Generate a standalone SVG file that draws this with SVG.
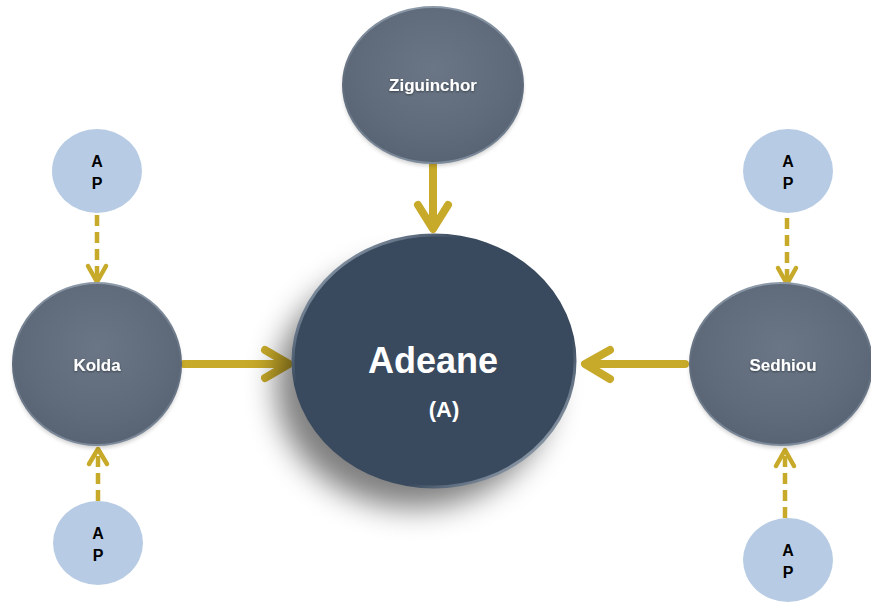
<svg xmlns="http://www.w3.org/2000/svg" width="871" height="605" viewBox="0 0 871 605">
<style>
.conn{fill:none;stroke:#C8AA2A;stroke-linecap:round;stroke-linejoin:round}
.solid{stroke-width:8}
.dash{stroke-width:4.5;stroke-dasharray:11 6;stroke-linecap:butt}
.head{fill:none;stroke:#C8AA2A;stroke-linecap:round;stroke-linejoin:round}
.lbl{font-family:"Liberation Sans",Arial,sans-serif;font-weight:bold;fill:#FFFFFF;text-anchor:middle}
.ap{font-family:"Liberation Sans",Arial,sans-serif;font-weight:bold;font-size:16px;fill:#000000;text-anchor:middle}
.apc{fill:#B7CCE4}
.grey{fill:url(#greyG);stroke:url(#rim);stroke-width:2}
</style>
<defs>
<radialGradient id="greyG" cx="0.5" cy="0.4" r="0.6">
<stop offset="0" stop-color="#6A7686"/>
<stop offset="0.7" stop-color="#5F6B7B"/>
<stop offset="1" stop-color="#586474"/>
</radialGradient>
<linearGradient id="rim" x1="0" y1="0" x2="0" y2="1">
<stop offset="0" stop-color="#8C99A8"/>
<stop offset="0.5" stop-color="#5E6A7A"/>
<stop offset="1" stop-color="#7D8B9C"/>
</linearGradient>
<linearGradient id="rimA" x1="0" y1="0" x2="1" y2="1">
<stop offset="0" stop-color="#B8C6D4"/>
<stop offset="0.3" stop-color="#3A4A5E"/>
<stop offset="0.7" stop-color="#3A4A5E"/>
<stop offset="1" stop-color="#C8D4E0"/>
</linearGradient>
<filter id="shadow" x="-30%" y="-30%" width="160%" height="160%">
<feGaussianBlur stdDeviation="15"/>
</filter>
<filter id="soft" x="-20%" y="-20%" width="140%" height="140%">
<feGaussianBlur stdDeviation="2"/>
</filter>
<filter id="tshadow" x="-20%" y="-50%" width="140%" height="200%">
<feDropShadow dx="0" dy="1" stdDeviation="1.2" flood-color="#000" flood-opacity="0.45"/>
</filter>
</defs>
<g id="connectors">
<line class="conn solid" x1="433" y1="165" x2="433" y2="226"/>
<polyline class="head" stroke-width="8" points="418,205 433,229 448,205"/>
<line class="conn solid" x1="184" y1="364" x2="286" y2="364"/>
<polyline class="head" stroke-width="8" points="265,350 289,364 265,378"/>
<line class="conn solid" x1="685" y1="364" x2="588" y2="364"/>
<polyline class="head" stroke-width="8" points="610,350 585,364 610,379"/>
<line class="conn dash" x1="97" y1="215" x2="97" y2="280"/>
<polyline class="head" stroke-width="4.5" points="88,266 97,282 106,266"/>
<line class="conn dash" x1="98" y1="501" x2="98" y2="451"/>
<polyline class="head" stroke-width="4.5" points="89,464 98,449 107,464"/>
<line class="conn dash" x1="787" y1="218" x2="787" y2="282"/>
<polyline class="head" stroke-width="4.5" points="778,268 787,284 796,268"/>
<line class="conn dash" x1="785" y1="518" x2="785" y2="452"/>
<polyline class="head" stroke-width="4.5" points="776,466 785,450 794,466"/>
</g>
<g id="adeane">
<ellipse cx="414" cy="386" rx="138" ry="122" fill="#000" opacity="0.5" filter="url(#shadow)"/>
<ellipse cx="434" cy="361" rx="141" ry="126" fill="#3A4A5E" stroke="url(#rimA)" stroke-width="3"/>
<text class="lbl" x="433" y="373" font-size="36">Adeane</text>
<text class="lbl" x="444" y="417" font-size="22">(A)</text>
</g>
<g id="ziguinchor">
<ellipse cx="433" cy="88" rx="90" ry="78" fill="#000" opacity="0.2" filter="url(#soft)"/>
<ellipse class="grey" cx="433" cy="85" rx="90" ry="78"/>
<text class="lbl" x="433" y="91" font-size="17" filter="url(#tshadow)">Ziguinchor</text>
</g>
<g id="kolda">
<ellipse cx="97" cy="367" rx="84" ry="81" fill="#000" opacity="0.2" filter="url(#soft)"/>
<ellipse class="grey" cx="97" cy="364" rx="84" ry="81"/>
<text class="lbl" x="97" y="371" font-size="17" filter="url(#tshadow)">Kolda</text>
</g>
<g id="sedhiou">
<ellipse cx="781" cy="367" rx="91" ry="81" fill="#000" opacity="0.2" filter="url(#soft)"/>
<ellipse class="grey" cx="781" cy="364" rx="91" ry="81"/>
<text class="lbl" x="783" y="371" font-size="17" filter="url(#tshadow)">Sedhiou</text>
</g>
<g id="ap-kolda-top">
<ellipse class="apc" cx="97" cy="171" rx="45" ry="42"/>
<text class="ap" x="97" y="167">A</text>
<text class="ap" x="97" y="189">P</text>
</g>
<g id="ap-kolda-bottom">
<ellipse class="apc" cx="98" cy="543" rx="45" ry="42"/>
<text class="ap" x="98" y="539">A</text>
<text class="ap" x="98" y="561">P</text>
</g>
<g id="ap-sedhiou-top">
<ellipse class="apc" cx="788" cy="171" rx="45" ry="42"/>
<text class="ap" x="788" y="167">A</text>
<text class="ap" x="788" y="189">P</text>
</g>
<g id="ap-sedhiou-bottom">
<ellipse class="apc" cx="788" cy="560" rx="45" ry="42"/>
<text class="ap" x="788" y="556">A</text>
<text class="ap" x="788" y="578">P</text>
</g>
</svg>
